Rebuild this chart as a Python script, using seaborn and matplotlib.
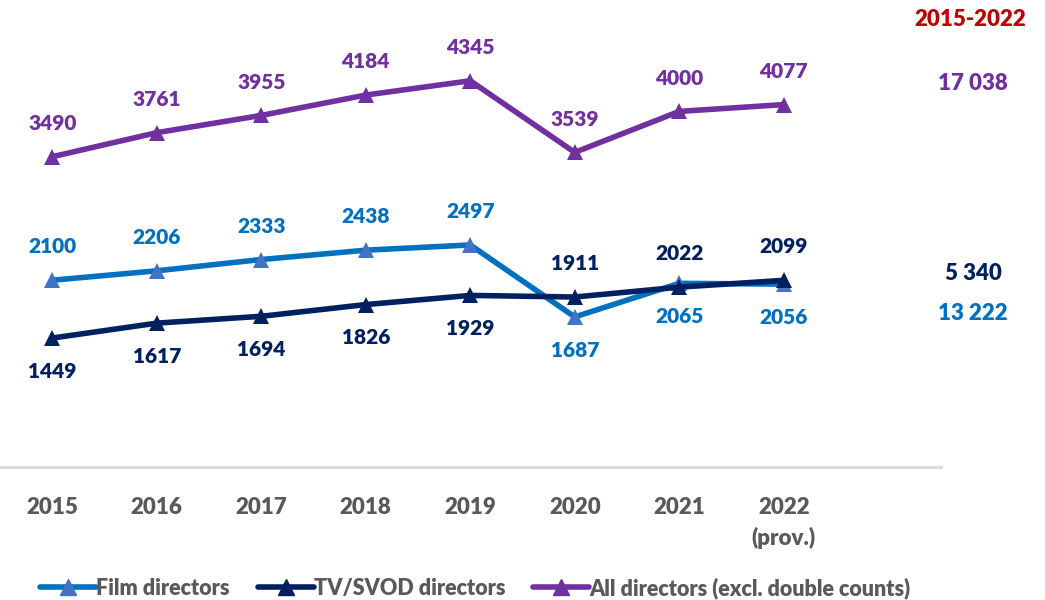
import numpy as np
import pandas as pd
import matplotlib
matplotlib.use("Agg")
import matplotlib.pyplot as plt
from matplotlib.lines import Line2D
import seaborn as sns

# ---------------------------------------------------------------------------
# Data
# ---------------------------------------------------------------------------
years = ["2015", "2016", "2017", "2018", "2019", "2020", "2021", "2022\n(prov.)", ""]
film = [2100, 2206, 2333, 2438, 2497, 1687, 2065, 2056]
tv_svod = [1449, 1617, 1694, 1826, 1929, 1911, 2022, 2099]
all_dirs = [3490, 3761, 3955, 4184, 4345, 3539, 4000, 4077]

series_names = ["Film directors", "TV/SVOD directors", "All directors (excl. double counts)"]
totals_title = "2015-2022"
totals = ["13 222", "5 340", "17 038"]

# label placement: +1 above the marker, -1 below
film_pos = [1, 1, 1, 1, 1, -1, -1, -1]
tv_pos = [-1, -1, -1, -1, -1, 1, 1, 1]
all_pos = [1] * 8

line_colors = ["#0070C0", "#002060", "#7030A0"]
marker_colors = ["#4472C4", "#002060", "#7030A0"]
label_colors = ["#0070C0", "#002060", "#7030A0"]

rows = []
for name, vals in zip(series_names, [film, tv_svod, all_dirs]):
    for i, v in enumerate(vals):
        rows.append({"x": i, "value": v, "series": name})
df = pd.DataFrame(rows)

# ---------------------------------------------------------------------------
# Plot
# ---------------------------------------------------------------------------
sns.set_theme(style="white")
plt.rcParams["font.family"] = ["Lato", "DejaVu Sans"]

fig = plt.figure(figsize=(10.45, 6), dpi=100)
ax = fig.add_axes([0.0, 0.222, 0.9, 0.770])

sns.lineplot(data=df, x="x", y="value", hue="series", hue_order=series_names,
             palette=line_colors, marker="^", markersize=11, linewidth=4,
             markeredgewidth=0, legend=False, ax=ax)

for line, mc in zip(ax.get_lines(), marker_colors):
    line.set_markerfacecolor(mc)
    line.set_markeredgecolor(mc)

for vals, pos, col in zip([film, tv_svod, all_dirs], [film_pos, tv_pos, all_pos], label_colors):
    for i, (v, p) in enumerate(zip(vals, pos)):
        ax.annotate(f"{v}", (i, v), xytext=(0, 24 * p), textcoords="offset points",
                    ha="center", va="center", fontsize=15, fontweight="heavy", color=col)

ax.set_xlim(-0.5, len(years) - 0.5)
ax.set_ylim(0, 5200)
ax.set_xticks(range(len(years)))
ax.set_xticklabels(years, fontsize=16, fontweight="heavy", color="#595959",
                   linespacing=1.5)
ax.set_yticks([])
ax.set_xlabel("")
ax.set_ylabel("")
ax.tick_params(axis="x", length=0, pad=22)
for s in ["top", "right", "left"]:
    ax.spines[s].set_visible(False)
ax.spines["bottom"].set_color("#D9D9D9")
ax.spines["bottom"].set_linewidth(2)

# totals on the right
fig.text(970 / 1045, 1 - 20 / 600, totals_title, ha="center", va="center",
         fontsize=16, fontweight="heavy", color="#C00000")
for txt, ypix, col in zip(totals, [314, 274, 83], label_colors):
    fig.text(973 / 1045, 1 - ypix / 600, txt, ha="center", va="center",
             fontsize=16, fontweight="heavy", color=col)

handles = [Line2D([0], [0], color=lc, lw=4, marker="^", markersize=11,
                  markerfacecolor=mc, markeredgecolor=mc)
           for lc, mc in zip(line_colors, marker_colors)]
leg = fig.legend(handles, series_names, loc="center", bbox_to_anchor=(0.455, 1 - 588 / 600),
                 ncol=3, frameon=False, fontsize=15.5, handlelength=2.6,
                 handletextpad=0.0, columnspacing=1.3)
for t in leg.get_texts():
    t.set_color("#595959")
    t.set_fontweight("heavy")

fig.savefig("out.png", dpi=100)
